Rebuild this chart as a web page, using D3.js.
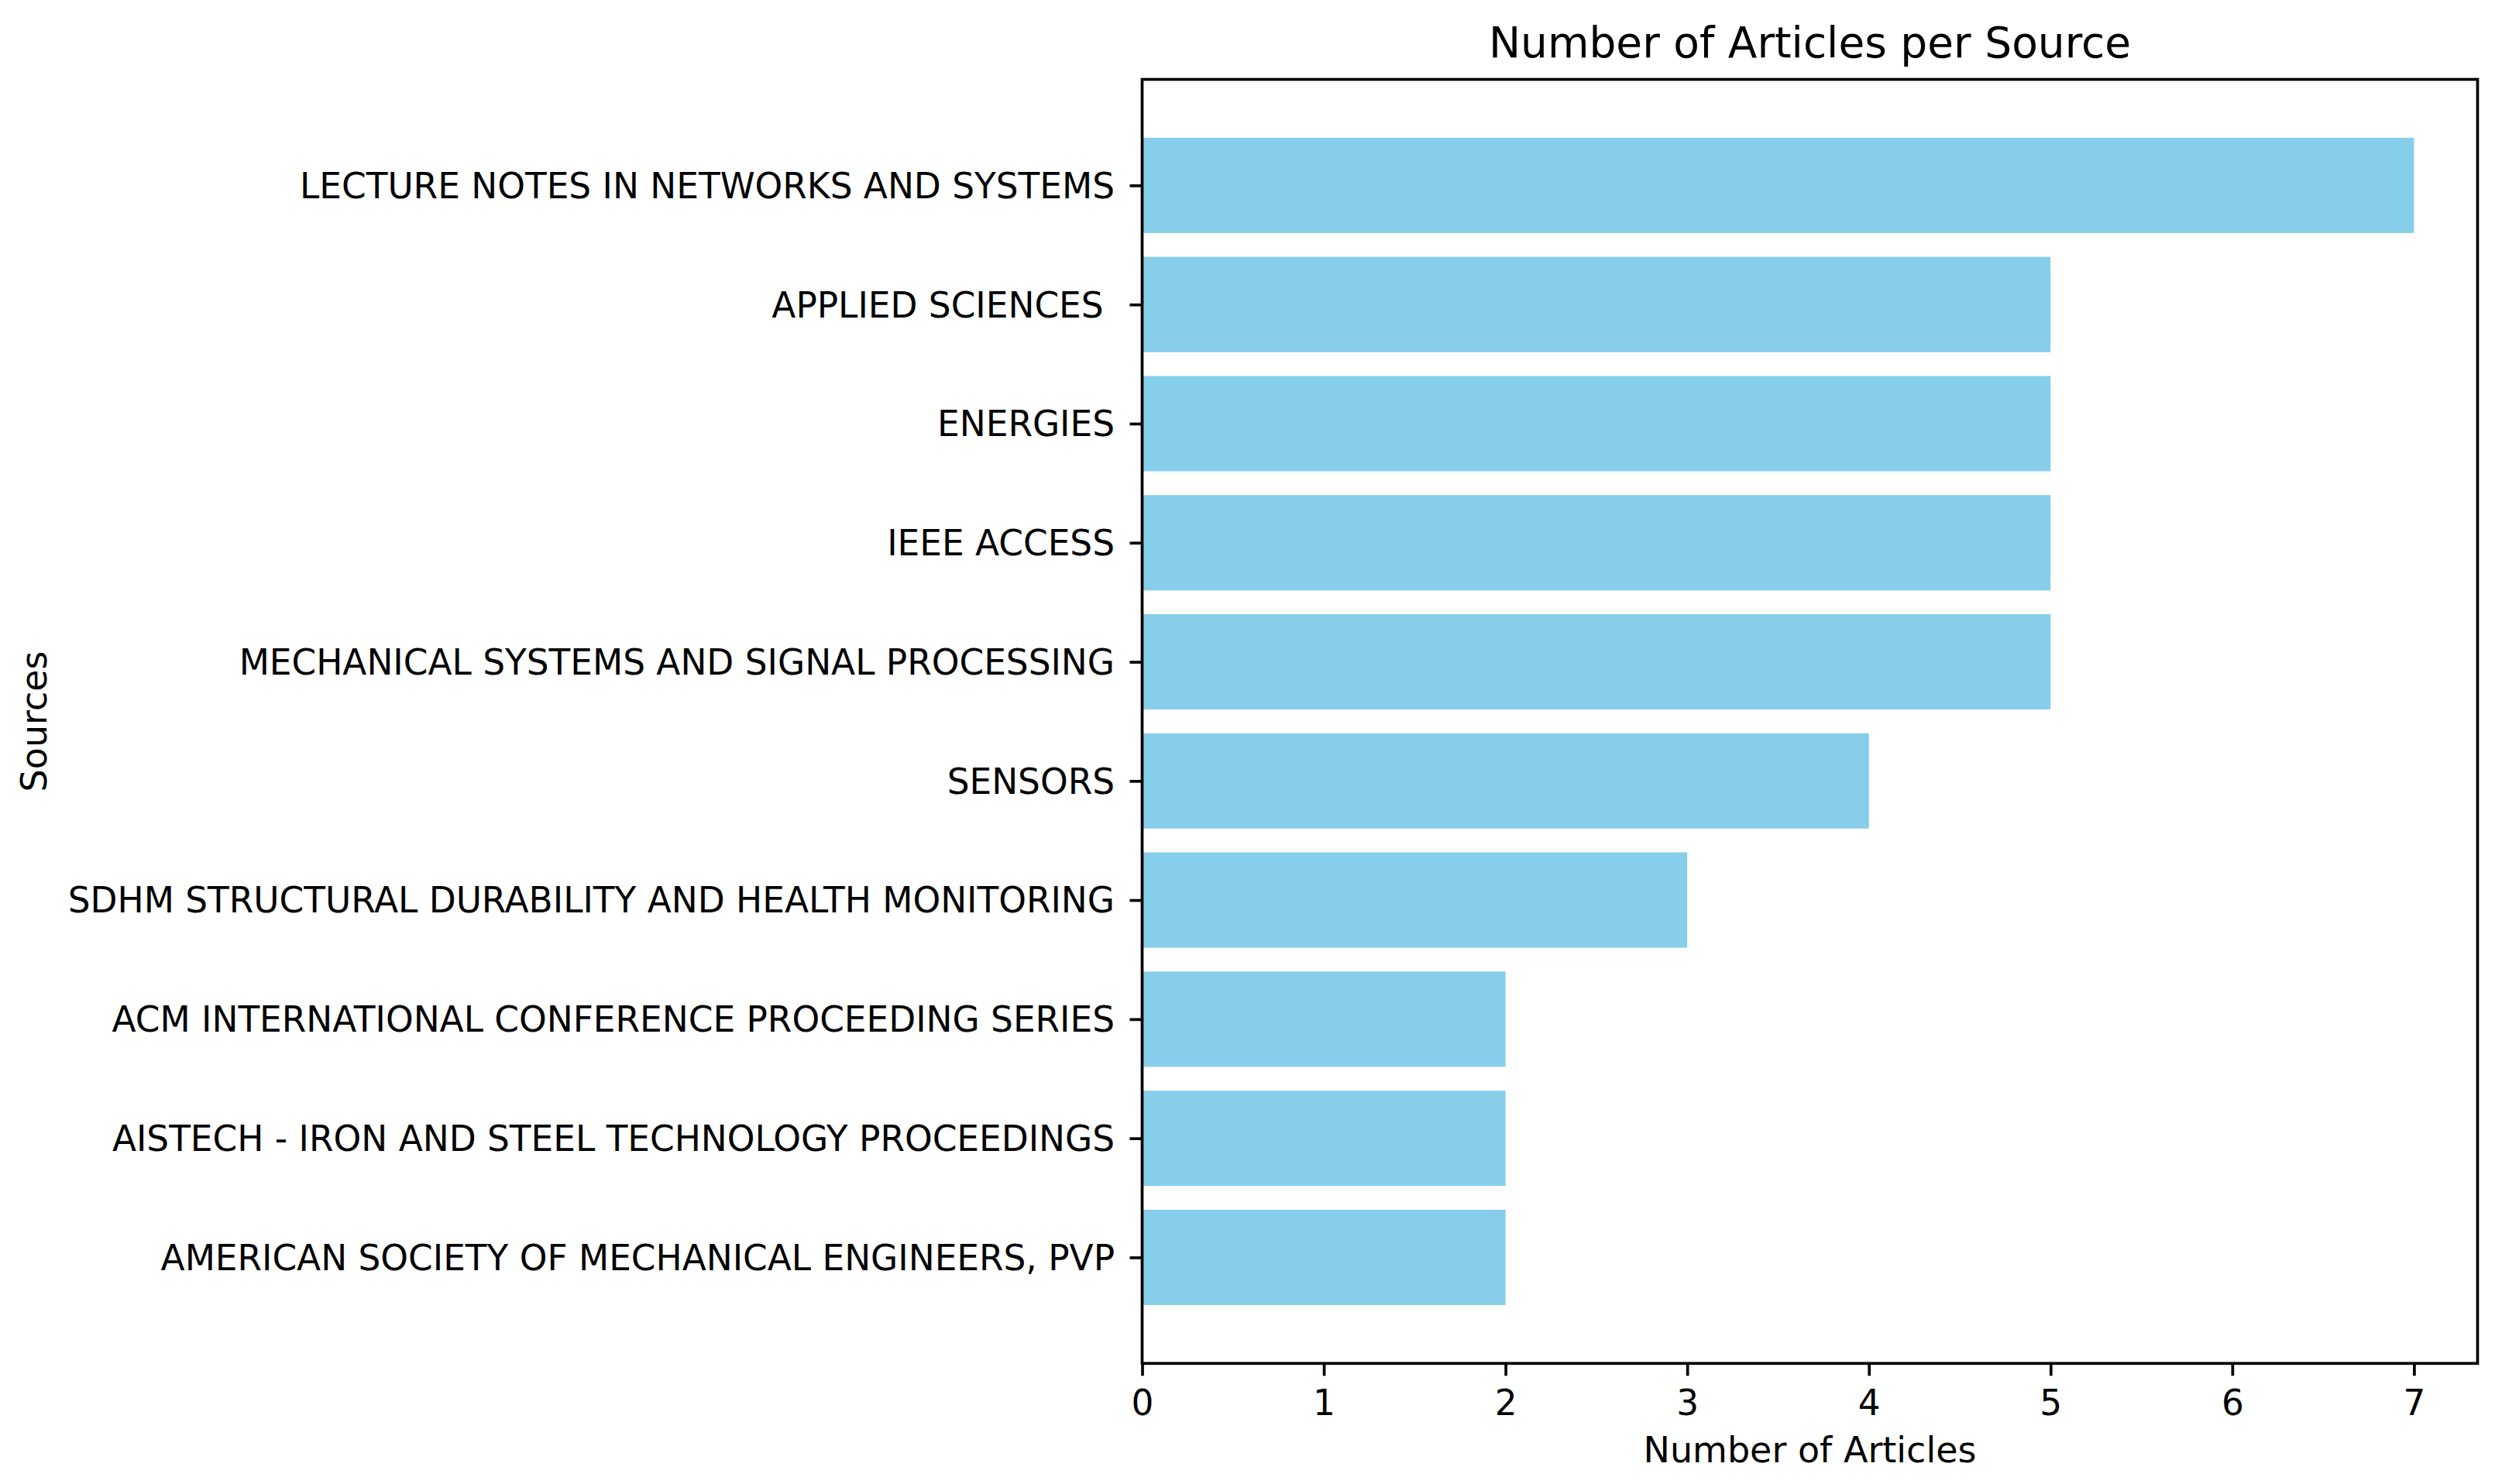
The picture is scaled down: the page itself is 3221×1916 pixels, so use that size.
<!DOCTYPE html>
<html>
<head>
<meta charset="utf-8">
<script src="https://cdn.jsdelivr.net/npm/d3@7"></script>
<style>
  html, body { margin: 0; padding: 0; background: #ffffff; }
  svg { display: block; }
  text { font-family: "DejaVu Sans", sans-serif; fill: #000; }
</style>
</head>
<body>
<script>
// ---- data ----
const sources = [
  "LECTURE NOTES IN NETWORKS AND SYSTEMS",
  "APPLIED SCIENCES ",
  "ENERGIES",
  "IEEE ACCESS",
  "MECHANICAL SYSTEMS AND SIGNAL PROCESSING",
  "SENSORS",
  "SDHM STRUCTURAL DURABILITY AND HEALTH MONITORING",
  "ACM INTERNATIONAL CONFERENCE PROCEEDING SERIES",
  "AISTECH - IRON AND STEEL TECHNOLOGY PROCEEDINGS",
  "AMERICAN SOCIETY OF MECHANICAL ENGINEERS, PVP"
];
const articleCounts = [7, 5, 5, 5, 5, 4, 3, 2, 2, 2];
const xTicks = [0, 1, 2, 3, 4, 5, 6, 7];
const titleText = "Number of Articles per Source";
const xLabelText = "Number of Articles";
const yLabelText = "Sources";

(function () {
// ---- layout ----
const W = 3221, H = 1916;
const pL = 1474.5, pR = 3198.5, pT = 102.5, pB = 1760.3;
const barColor = "#87CEEB";
const fontSize = 46, tickFont = 45.4, titleSize = 55;
const spineW = 3.7, tickLen = 16;

const svg = d3.select("body").append("svg")
  .attr("width", W).attr("height", H);
svg.append("rect").attr("width", W).attr("height", H).attr("fill", "#fff");

const n = sources.length;
const barH = 0.8;
const lo = -barH / 2, hi = n - 1 + barH / 2;
const m = 0.05 * (hi - lo);
const y = d3.scaleLinear().domain([lo - m, hi + m]).range([pT, pB]);

const xMax = d3.max(articleCounts);
const x = d3.scaleLinear().domain([0, xMax * 1.05]).range([pL, pR]);

// bars
svg.append("g").selectAll("rect").data(articleCounts).join("rect")
  .attr("x", x(0))
  .attr("y", (d, i) => y(i - barH / 2))
  .attr("width", d => x(d) - x(0))
  .attr("height", (d, i) => y(i + barH / 2) - y(i - barH / 2))
  .attr("fill", barColor);

// x axis
const xAxis = svg.append("g")
  .attr("transform", `translate(0,${pB})`)
  .call(d3.axisBottom(x).tickValues(xTicks).tickFormat(d3.format("d"))
    .tickSize(tickLen).tickPadding(18));
xAxis.select(".domain").remove();
xAxis.selectAll("line").attr("stroke", "#000").attr("stroke-width", spineW);
xAxis.selectAll("text").attr("font-size", tickFont)
  .attr("font-family", "DejaVu Sans").attr("fill", "#000");

// y axis
const yAxis = svg.append("g")
  .attr("transform", `translate(${pL},0)`)
  .call(d3.axisLeft(y).tickValues(d3.range(n)).tickFormat(i => sources[i])
    .tickSize(tickLen).tickPadding(19.5));
yAxis.select(".domain").remove();
yAxis.selectAll("line").attr("stroke", "#000").attr("stroke-width", spineW);
yAxis.selectAll("text").attr("font-size", tickFont)
  .attr("font-family", "DejaVu Sans").attr("fill", "#000")
  .attr("dy", "0.35em")
  .style("white-space", "pre");

// frame (spines)
svg.append("rect")
  .attr("x", pL).attr("y", pT)
  .attr("width", pR - pL).attr("height", pB - pT)
  .attr("fill", "none").attr("stroke", "#000").attr("stroke-width", spineW);

// title
svg.append("text")
  .attr("x", (pL + pR) / 2).attr("y", 74)
  .attr("text-anchor", "middle").attr("font-size", titleSize)
  .text(titleText);

// x label
svg.append("text")
  .attr("x", (pL + pR) / 2).attr("y", 1888)
  .attr("text-anchor", "middle").attr("font-size", fontSize)
  .text(xLabelText);

// y label
svg.append("text")
  .attr("transform", `translate(60,${(pT + pB) / 2}) rotate(-90)`)
  .attr("text-anchor", "middle").attr("font-size", fontSize)
  .text(yLabelText);
})();
</script>
</body>
</html>
